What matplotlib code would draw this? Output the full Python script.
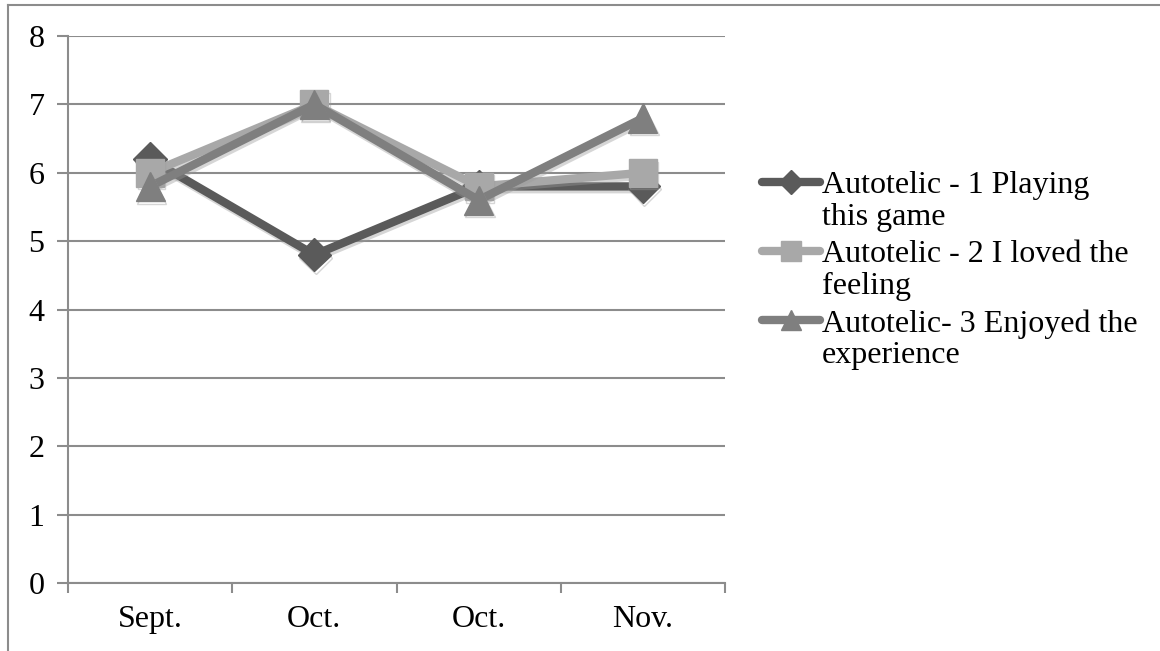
import matplotlib.pyplot as plt
from matplotlib.lines import Line2D
import matplotlib.patheffects as pe

plt.rcParams['font.family'] = ['Liberation Serif', 'DejaVu Serif']

categories = ['Sept.', 'Oct.', 'Oct.', 'Nov.']
autotelic1 = [6.2, 4.8, 5.8, 5.8]
autotelic2 = [6.0, 7.0, 5.8, 6.0]
autotelic3 = [5.8, 7.0, 5.6, 6.8]
labels = ['Autotelic - 1 Playing\nthis game',
          'Autotelic - 2 I loved the\nfeeling',
          'Autotelic- 3 Enjoyed the\nexperience']

W, H = 1160, 651
fig = plt.figure(figsize=(W / 100, H / 100), dpi=100)
ax = fig.add_axes([68 / W, 1 - 583 / H, (725 - 68) / W, (583 - 36) / H])

series = [
    (autotelic1, '#5a5a5a', 'D', 17),
    (autotelic2, '#a8a8a8', 's', 20),
    (autotelic3, '#7f7f7f', '^', 21),
]
shadow = [pe.SimpleLineShadow(offset=(1, -2), shadow_color='#999999', alpha=0.4), pe.Normal()]
x = list(range(len(categories)))
for vals, col, mk, ms in series:
    ax.plot(x, vals, color=col, lw=6, marker=mk, markersize=ms,
            markerfacecolor=col, markeredgecolor=col, solid_joinstyle='miter',
            path_effects=shadow, zorder=3)

gridc = '#8c8c8c'
ax.set_xlim(-0.5, 3.5)
ax.set_ylim(0, 8)
ax.set_yticks(range(9))
ax.set_xticks(x)
ax.set_xticklabels(categories)
ax.set_xticks([-0.5, 0.5, 1.5, 2.5, 3.5], minor=True)
ax.tick_params(axis='x', which='major', length=0, pad=16, labelsize=23)
ax.tick_params(axis='x', which='minor', length=7, width=1.5, color=gridc)
ax.tick_params(axis='y', length=8, width=1.5, color=gridc, pad=9, labelsize=23)
ax.grid(axis='y', color=gridc, lw=1.5)
ax.set_axisbelow(True)
for s in ['top', 'right']:
    ax.spines[s].set_visible(False)
for s in ['left', 'bottom']:
    ax.spines[s].set_color(gridc)
    ax.spines[s].set_linewidth(1.5)

# legend drawn in figure pixels
ys = [182, 251, 320]
for (vals, col, mk, ms), lab, yp in zip(series, labels, ys):
    fy = 1 - yp / H
    fig.add_artist(Line2D([762 / W, 820 / W], [fy, fy], color=col, lw=6,
                          solid_capstyle='round', transform=fig.transFigure))
    fig.add_artist(Line2D([791 / W], [fy], color=col, marker=mk,
                          markersize=ms * 0.7, transform=fig.transFigure))
    fig.text(822 / W, 1 - (yp - 11) / H, lab, fontsize=23, va='top', ha='left',
             linespacing=1.12, transform=fig.transFigure)

# outer border
bc = '#8c8c8c'
fig.add_artist(Line2D([8 / W, 8 / W], [0, 1 - 5 / H], color=bc, lw=1.5))
fig.add_artist(Line2D([8 / W, 1], [1 - 5 / H, 1 - 5 / H], color=bc, lw=1.5))

fig.savefig('out.png', dpi=100)
